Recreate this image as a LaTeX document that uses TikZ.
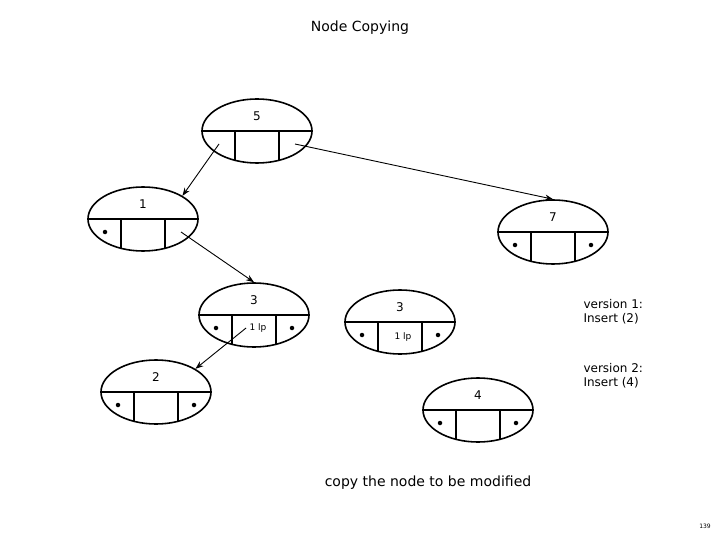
\documentclass[tikz,border=0pt]{standalone}
\usepackage{fontspec}
\setmainfont{DejaVu Sans}
\usetikzlibrary{shapes.geometric,arrows.meta}
\begin{document}
\begin{tikzpicture}[x=1pt,y=-1pt,
  bn/.style={ellipse,draw,line width=1.6pt,minimum width=110pt,minimum height=64pt,inner sep=0pt},
  dot/.style={circle,fill,inner sep=0pt,minimum size=4.5pt},
  lbl/.style={font=\fontsize{12}{14}\selectfont},
  arr/.style={-{Stealth[length=8pt,width=6pt]},line width=0.9pt}]
\useasboundingbox (0,0) rectangle (720,540);
\newcommand{\bnodeX}[5]{%
  \node[bn] (#1) at (#2,#3) {};
  \draw[line width=1.6pt] (#1.west) -- (#1.east);
  \draw[line width=1.6pt] (#2-22,#3) -- (#2-22,#3+29.3);
  \draw[line width=1.6pt] (#2+22,#3) -- (#2+22,#3+29.3);
  \node[lbl] (#1-t) at (#2,#3-15) {#4};
  \coordinate (#1-l) at (#2-38,#3+13);
  \coordinate (#1-m) at (#2,#3+13);
  \coordinate (#1-r) at (#2+38,#3+13);
  #5}
\node[lbl,font=\fontsize{14}{16}\selectfont] (title) at (360,28) {Node Copying};
\bnodeX{n5}{257}{131}{5}{}
\bnodeX{n1}{143}{219}{1}{\node[dot] at (n1-l) {};}
\bnodeX{n7}{553}{232}{7}{\node[dot] at (n7-l) {}; \node[dot] at (n7-r) {};}
\bnodeX{n3a}{254}{315}{3}{\node[dot] at (n3a-l) {}; \node[dot] at (n3a-r) {}; \node[font=\fontsize{9}{10}\selectfont] (lp1) at (258,328) {1 lp};}
\bnodeX{n3b}{400}{322}{3}{\node[dot] at (n3b-l) {}; \node[dot] at (n3b-r) {}; \node[font=\fontsize{9}{10}\selectfont] (lp2) at (403,337) {1 lp};}
\bnodeX{n2}{156}{392}{2}{\node[dot] at (n2-l) {}; \node[dot] at (n2-r) {};}
\bnodeX{n4}{478}{410}{4}{\node[dot] at (n4-l) {}; \node[dot] at (n4-r) {};}
\draw[arr] (n5-l) -- (n1.north east);
\draw[arr] (n5-r) -- (n7.north);
\draw[arr] (n1-r) -- (n3a.north);
\draw[arr] (lp1.west) -- (n2.north east);
\node[lbl,align=left,anchor=north west] (v1) at (580,296) {version 1:\\Insert (2)};
\node[lbl,align=left,anchor=north west] (v2) at (580,360) {version 2:\\Insert (4)};
\node[lbl,font=\fontsize{14}{16}\selectfont] (cp) at (428,483) {copy the node to be modified};
\node[font=\fontsize{6}{7}\selectfont] (pg) at (705,526) {139};
\end{tikzpicture}
\end{document}
